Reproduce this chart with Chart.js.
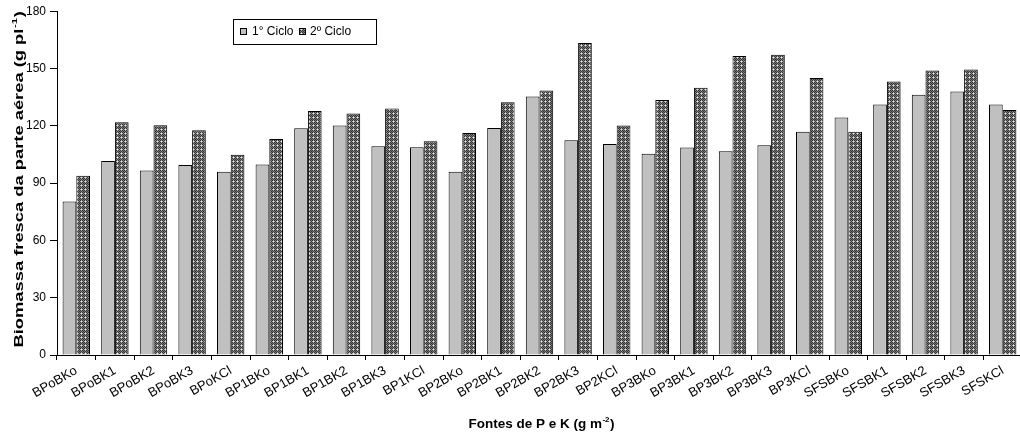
<!DOCTYPE html>
<html>
<head>
<meta charset="utf-8">
<script src="https://cdn.jsdelivr.net/npm/chart.js@4/dist/chart.umd.min.js"></script>
<style>
  html, body { margin: 0; padding: 0; background: #fff; overflow: hidden; }
  #wrap { position: relative; width: 1022px; height: 436px; }
</style>
</head>
<body>
<div id="wrap"><canvas id="c"></canvas></div>
<script>
// Treatments (sources of P and K)
const categories = [
  'BPoBKo', 'BPoBK1', 'BPoBK2', 'BPoBK3', 'BPoKCl',
  'BP1BKo', 'BP1BK1', 'BP1BK2', 'BP1BK3', 'BP1KCl',
  'BP2BKo', 'BP2BK1', 'BP2BK2', 'BP2BK3', 'BP2KCl',
  'BP3BKo', 'BP3BK1', 'BP3BK2', 'BP3BK3', 'BP3KCl',
  'SFSBKo', 'SFSBK1', 'SFSBK2', 'SFSBK3', 'SFSKCl'
];

// Fresh shoot biomass, g per plant
const ciclo1 = [
  80.4, 101.6, 96.6, 99.5, 95.9,
  99.7, 118.7, 120.1, 109.3, 108.8,
  95.9, 118.9, 135.4, 112.4, 110.5,
  105.4, 108.6, 106.7, 109.8, 116.9,
  124.4, 131.2, 136.2, 137.9, 131.1
];
const ciclo2 = [
  93.9, 121.8, 120.3, 117.7, 104.9,
  113.1, 127.7, 126.5, 129.1, 111.9,
  116.2, 132.3, 138.5, 163.4, 120.1,
  133.5, 139.9, 156.5, 157.2, 145.0,
  116.9, 143.2, 149.0, 149.5, 128.3
];

const seriesNames = ['1° Ciclo', '2º Ciclo'];
const yTicks = [0, 30, 60, 90, 120, 150, 180];
const yTitleParts = ['Biomassa fresca da parte aérea (g pl', '-1', ')'];
const xTitleParts = ['Fontes de P e K (g m', '-2', ')'];

const FONT = '"Liberation Sans", Arial, Helvetica, sans-serif';
Chart.defaults.font.family = FONT;
Chart.defaults.color = '#000';

// Small dotted-grid fill for the second cycle
function makePattern() {
  const tile = document.createElement('canvas');
  tile.width = 4; tile.height = 4;
  const t = tile.getContext('2d');
  const cols = { D: '#333333', L: '#aaaaaa', W: '#eeeeee', M: '#777777' };
  const rows = ['DLDM', 'LWLD', 'DLDM', 'MDMD'];
  rows.forEach((r, y) => {
    [...r].forEach((ch, x) => { t.fillStyle = cols[ch]; t.fillRect(x, y, 1, 1); });
  });
  return t.createPattern(tile, 'repeat');
}
const hatch = makePattern();
const grayFill = '#c0c0c0';

// Text with a superscript part, optionally stretched to a given length
function drawSupText(ctx, parts, x, y, rotate, size, targetLen) {
  ctx.save();
  ctx.translate(x, y);
  if (rotate) ctx.rotate(-Math.PI / 2);
  const main = `bold ${size}px ${FONT}`;
  const sup = `bold ${Math.round(size * 0.62)}px ${FONT}`;
  ctx.font = main; const w0 = ctx.measureText(parts[0]).width;
  ctx.font = sup;  const w1 = ctx.measureText(parts[1]).width;
  ctx.font = main; const w2 = ctx.measureText(parts[2]).width;
  const total = w0 + w1 + w2;
  if (targetLen) ctx.scale(targetLen / total, 1);
  let cx = -total / 2;
  const base = size * 0.36;
  ctx.fillStyle = '#000';
  ctx.textAlign = 'left';
  ctx.textBaseline = 'alphabetic';
  ctx.font = main; ctx.fillText(parts[0], cx, base); cx += w0;
  ctx.font = sup;  ctx.fillText(parts[1], cx + 0.5, base - size * 0.42); cx += w1 + 1;
  ctx.font = main; ctx.fillText(parts[2], cx, base);
  ctx.restore();
}

const decorations = {
  id: 'decorations',
  afterDraw(chart) {
    const ctx = chart.ctx;
    // axis titles
    drawSupText(ctx, yTitleParts, 18, 180, true, 13, 335);
    drawSupText(ctx, xTitleParts, 541, 423, false, 13.5, null);

    // legend box
    const bx = 233.5, by = 19.5, bw = 143, bh = 25;
    ctx.save();
    ctx.fillStyle = '#fff';
    ctx.fillRect(bx, by, bw, bh);
    ctx.strokeStyle = '#000';
    ctx.lineWidth = 1;
    ctx.strokeRect(bx, by, bw, bh);
    const fills = [grayFill, hatch];
    const swX = [240, 299];
    const txX = [252, 310];
    ctx.font = `12px ${FONT}`;
    ctx.textBaseline = 'middle';
    ctx.textAlign = 'left';
    for (let i = 0; i < 2; i++) {
      ctx.fillStyle = fills[i];
      ctx.fillRect(swX[i], 28, 7, 7);
      ctx.strokeStyle = '#000';
      ctx.strokeRect(swX[i] + 0.5, 28.5, 6, 6);
      ctx.fillStyle = '#000';
      ctx.fillText(chart.data.datasets[i].label, txX[i], 32);
    }
    ctx.restore();
  }
};

new Chart(document.getElementById('c'), {
  type: 'bar',
  data: {
    labels: categories,
    datasets: [
      { label: seriesNames[0], data: ciclo1, backgroundColor: grayFill,
        borderColor: '#000', borderWidth: 1, categoryPercentage: 0.71, barPercentage: 1.0 },
      { label: seriesNames[1], data: ciclo2, backgroundColor: hatch,
        borderColor: '#000', borderWidth: 1, categoryPercentage: 0.71, barPercentage: 1.0 }
    ]
  },
  options: {
    responsive: true,
    maintainAspectRatio: false,
    animation: false,
    events: [],
    layout: { padding: { top: 11, left: 0, right: 0, bottom: 0 } },
    plugins: { legend: { display: false }, tooltip: { enabled: false } },
    scales: {
      x: {
        offset: true,
        grid: { display: true, drawOnChartArea: false, drawTicks: true, tickLength: 5, color: '#000', offset: true },
        border: { display: true, color: '#000', width: 1 },
        ticks: { minRotation: 30, maxRotation: 30, autoSkip: false, color: '#000', font: { size: 13 }, padding: 3 },
        afterFit(s) { s.height = 81; }
      },
      y: {
        min: 0, max: 180,
        afterBuildTicks(s) { s.ticks = yTicks.map(v => ({ value: v })); },
        grid: { drawOnChartArea: false, drawTicks: true, tickLength: 7, color: '#000' },
        border: { display: true, color: '#000', width: 1 },
        ticks: { color: '#000', font: { size: 12 }, padding: 4 },
        afterFit(s) { s.width = 57; }
      }
    }
  },
  plugins: [decorations]
});
</script>
</body>
</html>
